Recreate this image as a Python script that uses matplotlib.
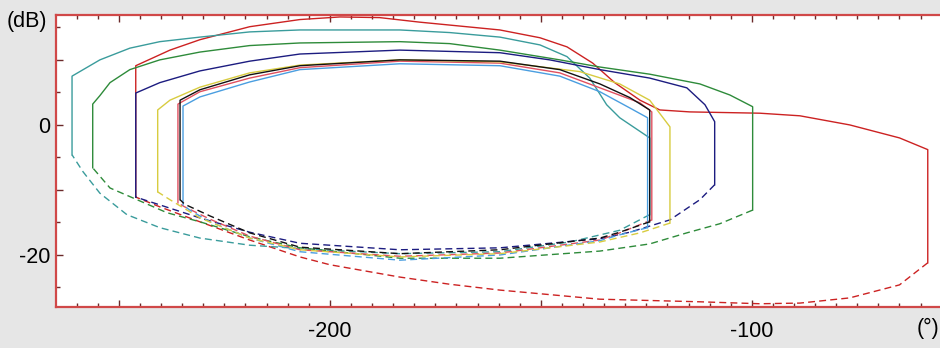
import numpy as np
import matplotlib; matplotlib.use("Agg"); import matplotlib.pyplot as plt
from matplotlib.ticker import MultipleLocator, FuncFormatter

plt.rcParams["font.family"] = ["Liberation Sans", "DejaVu Sans"]
plt.rcParams["axes.unicode_minus"] = False

# Nichols loops: solid = upper branch incl. end verticals, dashed = lower branch (phase deg, gain dB)
red_ph  = [-246.0,-246.0,-237.9,-230.8,-219.0,-207.1,-197.6,-188.2,-178.7,-169.2,-159.7,-150.2,-143.8,-137.7,-132.5,-126.5,-121.8,-114.7,-98.1,-88.6,-76.8,-65.0,-58.3,-58.3]
red_db  = [-11.1,9.1,11.5,13.1,15.1,16.2,16.6,16.5,15.8,15.2,14.6,13.4,12.0,9.5,6.5,3.8,2.3,2.0,1.8,1.4,0.0,-2.0,-3.8,-21.2]
red_ph2 = [-58.3,-65.0,-76.8,-88.6,-98.1,-112.3,-136.0,-159.7,-171.6,-183.4,-200.0,-207.1,-219.0,-230.8,-240.3,-246.0]
red_db2 = [-21.2,-24.6,-26.6,-27.4,-27.5,-27.2,-26.8,-25.4,-24.5,-23.4,-21.5,-20.3,-17.7,-14.9,-12.6,-11.1]

teal_ph  = [-261.1,-261.1,-254.5,-247.4,-240.3,-230.8,-219.0,-207.1,-183.4,-171.6,-159.7,-150.2,-143.8,-138.4,-134.4,-131.3,-124.2,-124.2]
teal_db  = [-4.6,7.5,10.0,11.8,12.8,13.5,14.3,14.6,14.6,14.2,13.5,12.3,10.5,7.2,3.1,1.1,-2.0,-13.8]
teal_ph2 = [-124.2,-131.3,-143.1,-159.7,-183.4,-202.4,-219.0,-230.8,-240.3,-248.1,-254.5,-258.5,-261.1]
teal_db2 = [-13.8,-16.2,-18.0,-19.5,-19.8,-19.2,-18.5,-17.4,-15.8,-13.8,-10.5,-7.2,-4.6]

green_ph  = [-256.2,-256.2,-254.5,-252.1,-247.4,-240.3,-230.8,-219.0,-207.1,-183.4,-171.6,-159.7,-145.5,-136.0,-124.2,-112.3,-105.2,-99.8,-99.8]
green_db  = [-6.6,3.2,4.5,6.5,8.5,10.0,11.2,12.2,12.6,12.8,12.5,11.5,10.0,8.9,7.8,6.3,4.6,2.8,-13.1]
green_ph2 = [-99.8,-107.6,-115.4,-124.2,-136.0,-159.7,-183.4,-207.1,-219.0,-230.8,-238.6,-245.7,-252.1,-256.2]
green_db2 = [-13.1,-15.2,-16.6,-18.3,-19.4,-20.5,-20.5,-18.9,-17.2,-14.9,-13.5,-11.5,-9.7,-6.6]

navy_ph  = [-246.0,-246.0,-240.3,-230.8,-219.0,-207.1,-183.4,-159.7,-147.9,-136.0,-124.2,-115.4,-111.1,-108.8,-108.8]
navy_db  = [-11.1,4.9,6.5,8.3,9.8,10.9,11.5,11.1,10.0,8.5,7.2,5.7,3.1,0.5,-9.2]
navy_ph2 = [-108.8,-112.3,-119.4,-128.9,-136.0,-159.7,-183.4,-207.1,-219.0,-230.8,-240.3,-246.0]
navy_db2 = [-9.2,-11.5,-14.6,-16.5,-17.5,-18.9,-19.2,-18.2,-16.5,-14.3,-12.3,-11.1]

pink_ph  = [-236.0,-236.0,-230.8,-219.0,-207.1,-183.4,-159.7,-145.5,-136.0,-126.5,-123.7,-123.7]
pink_db  = [-12.0,3.2,5.1,7.2,8.8,9.8,9.5,8.0,5.7,3.4,2.0,-14.6]
pink_ph2 = [-123.7,-131.3,-136.0,-159.7,-183.4,-207.1,-219.0,-228.4,-234.4,-236.0]
pink_db2 = [-14.6,-16.6,-17.7,-19.7,-20.2,-19.2,-17.1,-14.5,-12.6,-12.0]

lblue_ph  = [-234.8,-234.8,-230.8,-219.0,-207.1,-183.4,-159.7,-145.5,-136.0,-128.9,-124.7,-124.7]
lblue_db  = [-12.3,2.9,4.3,6.6,8.5,9.4,9.1,7.5,5.1,2.6,1.1,-15.8]
lblue_ph2 = [-124.7,-131.3,-136.0,-159.7,-183.4,-207.1,-219.0,-228.4,-233.2,-234.8]
lblue_db2 = [-15.8,-16.9,-17.8,-20.0,-20.8,-19.5,-17.4,-14.9,-13.1,-12.3]

yel_ph  = [-240.8,-240.8,-237.9,-230.8,-219.0,-207.1,-183.4,-159.7,-140.8,-131.3,-124.2,-119.4,-119.4]
yel_db  = [-10.3,2.3,3.8,5.8,8.0,9.2,10.0,9.7,8.2,6.3,3.8,-0.3,-15.1]
yel_ph2 = [-119.4,-126.5,-136.0,-159.7,-183.4,-207.1,-219.0,-230.8,-237.9,-240.8]
yel_db2 = [-15.1,-16.6,-18.0,-19.8,-20.3,-19.2,-17.4,-14.3,-11.5,-10.3]

blk_ph  = [-235.5,-235.5,-230.8,-219.0,-207.1,-183.4,-159.7,-145.5,-136.0,-128.9,-124.2,-124.2]
blk_db  = [-11.5,3.8,5.4,7.7,9.1,10.0,9.8,8.5,6.3,4.2,2.3,-14.9]
blk_ph2 = [-124.2,-131.3,-136.0,-159.7,-183.4,-207.1,-219.0,-228.4,-234.4,-235.5]
blk_db2 = [-14.9,-16.5,-17.4,-19.2,-19.8,-18.8,-16.6,-14.0,-12.2,-11.5]

loops = [(red_ph,red_db,red_ph2,red_db2,"#cc2222"),
         (teal_ph,teal_db,teal_ph2,teal_db2,"#3a9c9c"),
         (green_ph,green_db,green_ph2,green_db2,"#2e8b3a"),
         (navy_ph,navy_db,navy_ph2,navy_db2,"#1c1c80"),
         (pink_ph,pink_db,pink_ph2,pink_db2,"#e05060"),
         (lblue_ph,lblue_db,lblue_ph2,lblue_db2,"#4a9ee0"),
         (yel_ph,yel_db,yel_ph2,yel_db2,"#d8cc40"),
         (blk_ph,blk_db,blk_ph2,blk_db2,"#111111")]

fig = plt.figure(figsize=(9.4,3.48), dpi=100, facecolor="#e6e6e6")
ax = fig.add_axes([56/940, 41/348, 884/940, 292/348])
for ph,db,ph2,db2,c in loops:
    ax.plot(ph, db, color=c, lw=1.0)
    ax.plot(ph2, db2, color=c, lw=1.0, ls=(0,(5,3)))

ax.set_xlim(-264.9, -55.4); ax.set_ylim(-28.0, 16.9)
ax.xaxis.set_major_locator(MultipleLocator(50)); ax.xaxis.set_minor_locator(MultipleLocator(5))
ax.yaxis.set_major_locator(MultipleLocator(10)); ax.yaxis.set_minor_locator(MultipleLocator(5))
ax.xaxis.set_major_formatter(FuncFormatter(lambda v,p: f"{v:.0f}" if round(v)%100==0 else ""))
ax.yaxis.set_major_formatter(FuncFormatter(lambda v,p: f"{v:.0f}" if round(v)%20==0 else ""))
ax.tick_params(which="both", direction="in", top=True, color="#6b2a2a", labelsize=15.5, width=1)
ax.tick_params(which="major", length=5)
ax.tick_params(which="minor", length=3)
ax.tick_params(axis="x", pad=10); ax.tick_params(axis="y", pad=4)
for s in ["left","bottom","top"]:
    ax.spines[s].set_color("#d04848"); ax.spines[s].set_linewidth(1.6)
ax.spines["right"].set_visible(False)

fig.text(27/940, 1-21/348, "(dB)", fontsize=15.5, ha="center", va="center")
fig.text(917/940, 1-328/348, "(°)", fontsize=15.5, ha="left", va="center")
fig.savefig("out.png", dpi=100, facecolor=fig.get_facecolor())
